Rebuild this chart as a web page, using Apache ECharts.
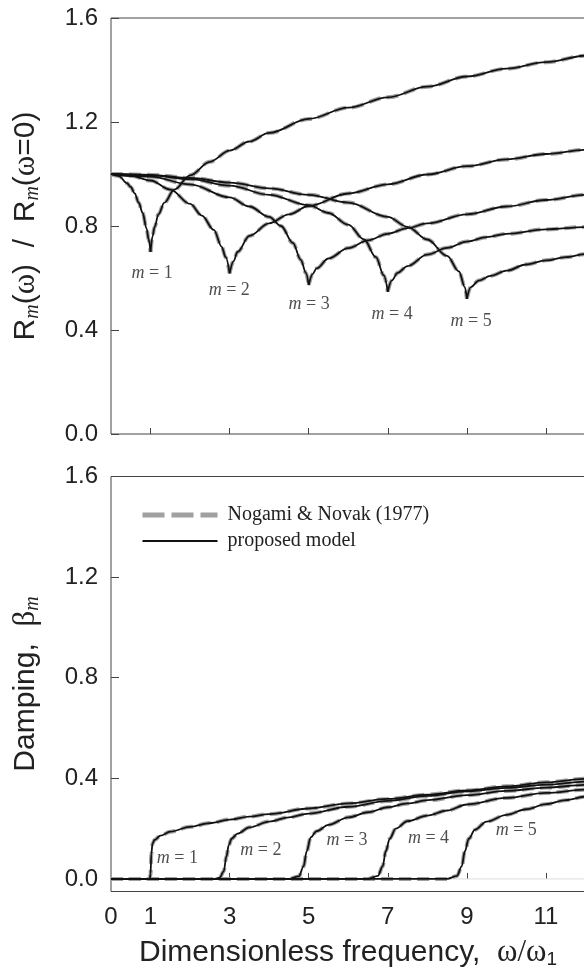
<!DOCTYPE html>
<html>
<head>
<meta charset="utf-8">
<script src="https://cdn.jsdelivr.net/npm/echarts@6/dist/echarts.min.js"></script>
<style>
  html, body { margin: 0; padding: 0; background: #fff; }
  #chart { width: 584px; height: 973px; }
</style>
</head>
<body>
<div id="chart"></div>
<script>
// tick positions
const xTickVals = [1, 3, 5, 7, 9, 11, 13];
const xLabelVals = [0, 1, 3, 5, 7, 9, 11, 13];
const yTickVals = [0, 0.4, 0.8, 1.2, 1.6];

// stiffness ratio Rm(w)/Rm(0): branch below and above the cut-off frequency
const stiffDown1 = [[0, 1.0], [0.2, 0.992], [0.4, 0.965], [0.5, 0.95], [0.6, 0.925], [0.7, 0.89], [0.8, 0.85], [0.9, 0.79], [0.95, 0.75], [1.0, 0.70]];
const stiffUp1 = [[1.0, 0.70], [1.05, 0.76], [1.1, 0.795], [1.2, 0.845], [1.35, 0.89], [1.6, 0.94], [2.0, 0.995], [2.5, 1.047], [3.0, 1.09], [3.5, 1.125], [4.0, 1.158], [5, 1.212], [6, 1.255], [7, 1.295], [8, 1.336], [9, 1.375], [10, 1.405], [11, 1.43], [12, 1.455], [13, 1.478]];
const stiffDown2 = [[0, 1.0], [0.5, 0.993], [1.0, 0.975], [1.5, 0.94], [2.0, 0.885], [2.3, 0.84], [2.6, 0.785], [2.8, 0.72], [2.9, 0.68], [3.0, 0.618]];
const stiffUp2 = [[3.0, 0.618], [3.1, 0.665], [3.2, 0.70], [3.5, 0.762], [4.0, 0.81], [4.5, 0.845], [5, 0.877], [6, 0.925], [7, 0.96], [8, 0.998], [9, 1.03], [10, 1.056], [11, 1.077], [12, 1.093], [13, 1.11]];
const stiffDown3 = [[0, 1.0], [1, 0.99], [2, 0.96], [3, 0.91], [3.5, 0.875], [4, 0.835], [4.3, 0.80], [4.6, 0.735], [4.8, 0.67], [4.93, 0.62], [5, 0.573]];
const stiffUp3 = [[5, 0.573], [5.1, 0.615], [5.2, 0.637], [5.5, 0.675], [6, 0.715], [6.5, 0.745], [7, 0.77], [7.5, 0.792], [8, 0.81], [9, 0.845], [10, 0.875], [11, 0.9], [12, 0.92], [13, 0.937]];
const stiffDown4 = [[0, 1.0], [1, 0.995], [2, 0.98], [3, 0.955], [4, 0.92], [5, 0.88], [5.5, 0.85], [6, 0.805], [6.4, 0.748], [6.7, 0.68], [6.9, 0.61], [7, 0.547]];
const stiffUp4 = [[7, 0.547], [7.1, 0.59], [7.25, 0.62], [7.5, 0.646], [8, 0.69], [8.5, 0.716], [9, 0.74], [9.5, 0.757], [10, 0.77], [11, 0.787], [12, 0.796], [13, 0.808]];
const stiffDown5 = [[0, 1.0], [1, 0.997], [2, 0.985], [3, 0.967], [4, 0.945], [5, 0.92], [6, 0.89], [7, 0.835], [7.5, 0.797], [8, 0.748], [8.5, 0.685], [8.8, 0.625], [8.95, 0.565], [9, 0.52]];
const stiffUp5 = [[9, 0.52], [9.1, 0.565], [9.3, 0.59], [9.6, 0.608], [10, 0.628], [10.5, 0.652], [11, 0.668], [11.5, 0.68], [12, 0.692], [13, 0.71]];

// damping beta_m
const damp1 = [[0, 0], [0.98, 0], [1.0, 0.02], [1.02, 0.10], [1.05, 0.14], [1.1, 0.155], [1.25, 0.172], [1.5, 0.188], [2, 0.207], [2.5, 0.222], [3, 0.236], [3.5, 0.248], [4, 0.258], [5, 0.28], [6, 0.30], [7, 0.318], [8, 0.335], [9, 0.352], [10, 0.368], [11, 0.384], [12, 0.398], [13, 0.412]];
const damp2 = [[0, 0], [2.6, 0], [2.75, 0.005], [2.85, 0.03], [2.92, 0.09], [2.98, 0.135], [3.05, 0.16], [3.2, 0.18], [3.5, 0.205], [4, 0.228], [4.5, 0.245], [5, 0.26], [6, 0.287], [7, 0.31], [8, 0.33], [9, 0.348], [10, 0.362], [11, 0.375], [12, 0.387], [13, 0.398]];
const damp3 = [[0, 0], [4.5, 0], [4.75, 0.01], [4.87, 0.05], [4.95, 0.11], [5.05, 0.165], [5.2, 0.19], [5.5, 0.215], [6, 0.245], [6.5, 0.265], [7, 0.285], [7.5, 0.30], [8, 0.313], [9, 0.333], [10, 0.35], [11, 0.363], [12, 0.374], [13, 0.385]];
const damp4 = [[0, 0], [6.5, 0], [6.75, 0.012], [6.87, 0.05], [6.95, 0.11], [7.05, 0.16], [7.2, 0.2], [7.5, 0.23], [8, 0.252], [8.5, 0.272], [9, 0.296], [10, 0.322], [11, 0.342], [12, 0.355], [13, 0.367]];
const damp5 = [[0, 0], [8.5, 0], [8.75, 0.012], [8.87, 0.05], [8.95, 0.11], [9.05, 0.16], [9.2, 0.195], [9.5, 0.228], [10, 0.255], [10.5, 0.277], [11, 0.297], [11.5, 0.313], [12, 0.327], [13, 0.348]];

// "m = ..." annotations [x, y, m]
const stiffLabels = [[1.04, 0.619, 1], [2.99, 0.554, 2], [5.01, 0.50, 3], [7.11, 0.46, 4], [9.11, 0.432, 5]];
const dampLabels = [[1.68, 0.083, 1], [3.79, 0.115, 2], [5.97, 0.155, 3], [8.03, 0.162, 4], [10.25, 0.195, 5]];

const REF = 'Nogami & Novak (1977)';
const MODEL = 'proposed model';

const chart = echarts.init(document.getElementById('chart'));

const sans = 'Liberation Sans';
const serif = 'Liberation Serif';
const axisColor = '#444';
const textColor = '#222';
const refColor = '#a0a0a0';
const modelColor = '#111';

const nameRich = {
  a: { fontFamily: sans, fontSize: 30, color: textColor, lineHeight: 34 },
  w: { fontFamily: serif, fontSize: 31, color: textColor, lineHeight: 34 },
  s: { fontFamily: serif, fontStyle: 'italic', fontSize: 20, color: textColor, lineHeight: 14, verticalAlign: 'bottom' },
  n: { fontFamily: sans, fontSize: 19, color: textColor, lineHeight: 14, verticalAlign: 'bottom' }
};

function xAxis(gridIndex, withLabels) {
  return {
    type: 'value', gridIndex, min: 0, max: 13,
    axisLine: { show: false },
    splitLine: { show: false },
    axisTick: { show: true, inside: true, length: 6, customValues: xTickVals, lineStyle: { color: axisColor } },
    axisLabel: withLabels
      ? { show: true, customValues: xLabelVals, margin: 14, fontFamily: sans, fontSize: 24, color: textColor }
      : { show: false },
    name: withLabels ? '{a|Dimensionless frequency,  }{w|ω}{w|/}{w|ω}{n|1}' : '',
    nameLocation: 'middle',
    nameGap: 44,
    // the title sits a little left of the (clipped) plot centre
    nameTextStyle: { rich: nameRich, padding: [0, 40, 0, 0] }
  };
}

function yAxis(gridIndex, min, name) {
  return {
    type: 'value', gridIndex, min, max: 1.6,
    axisLine: { show: false },
    splitLine: { show: false },
    axisTick: { show: true, inside: true, length: 8, customValues: yTickVals, lineStyle: { color: axisColor } },
    axisLabel: { customValues: yTickVals, margin: 13, fontFamily: sans, fontSize: 24, color: textColor,
      formatter: v => v.toFixed(1) },
    name,
    nameLocation: 'middle',
    nameRotate: 90,
    nameGap: 68,
    nameTextStyle: { rich: nameRich }
  };
}

function refLine(data, idx) {
  return {
    name: REF, type: 'line', xAxisIndex: idx, yAxisIndex: idx, data,
    symbol: 'none', smooth: 0.35, smoothMonotone: 'x', silent: true,
    itemStyle: { color: refColor },
    lineStyle: { color: refColor, width: 4, type: [12, 6] }
  };
}

function modelLine(data, idx) {
  return {
    name: MODEL, type: 'line', xAxisIndex: idx, yAxisIndex: idx, data,
    symbol: 'none', smooth: 0.35, smoothMonotone: 'x', silent: true,
    itemStyle: { color: modelColor },
    lineStyle: { color: modelColor, width: 1.8 }
  };
}

function labelSeries(data, idx) {
  return {
    name: 'labels', type: 'scatter', xAxisIndex: idx, yAxisIndex: idx, data,
    symbolSize: 1, itemStyle: { color: 'rgba(0,0,0,0)' }, silent: true, z: 5,
    label: {
      show: true, position: 'inside',
      formatter: p => '{i|m} = ' + p.data[2],
      fontFamily: serif, fontSize: 18, color: textColor,
      rich: { i: { fontFamily: serif, fontStyle: 'italic', fontSize: 18, color: textColor } }
    }
  };
}

const stiffAll = [stiffDown1, stiffUp1, stiffDown2, stiffUp2, stiffDown3, stiffUp3, stiffDown4, stiffUp4, stiffDown5, stiffUp5];
const dampAll = [damp1, damp2, damp3, damp4, damp5];

const series = [];
// thin light zero line in the damping panel
series.push({
  name: 'zero', type: 'line', xAxisIndex: 1, yAxisIndex: 1, data: [[0, 0], [13, 0]],
  symbol: 'none', silent: true, lineStyle: { color: '#dcdcdc', width: 1 }, z: 1
});
stiffAll.forEach(d => series.push(refLine(d, 0)));
dampAll.forEach(d => series.push(refLine(d, 1)));
stiffAll.forEach(d => series.push(modelLine(d, 0)));
dampAll.forEach(d => series.push(modelLine(d, 1)));
series.push(labelSeries(stiffLabels, 0));
series.push(labelSeries(dampLabels, 1));

chart.setOption({
  animation: false,
  backgroundColor: '#fff',
  grid: [
    { left: 111, top: 18, width: 514, height: 416, show: true, borderColor: axisColor, borderWidth: 1, outerBoundsMode: 'none' },
    { left: 111, top: 476.5, width: 514, height: 415, show: true, borderColor: axisColor, borderWidth: 1, outerBoundsMode: 'none' }
  ],
  legend: {
    orient: 'vertical', left: 135, top: 500,
    itemWidth: 75, itemHeight: 14, itemGap: 6,
    selectedMode: false,
    textStyle: { fontFamily: serif, fontSize: 20, color: textColor, padding: [0, 0, 0, 5] },
    data: [
      { name: REF, itemStyle: { opacity: 0 }, lineStyle: { color: refColor, width: 5, type: [22, 7] } },
      { name: MODEL, itemStyle: { opacity: 0 }, lineStyle: { color: modelColor, width: 1.8 } }
    ]
  },
  xAxis: [xAxis(0, false), xAxis(1, true)],
  yAxis: [
    yAxis(0, 0, '{a|R}{s|m}{a|(}{w|ω}{a|)  /  R}{s|m}{a|(}{w|ω}{a|=0)}'),
    yAxis(1, -0.05, '{a|Damping,  }{w|β}{s|m}')
  ],
  series
});
</script>
</body>
</html>
